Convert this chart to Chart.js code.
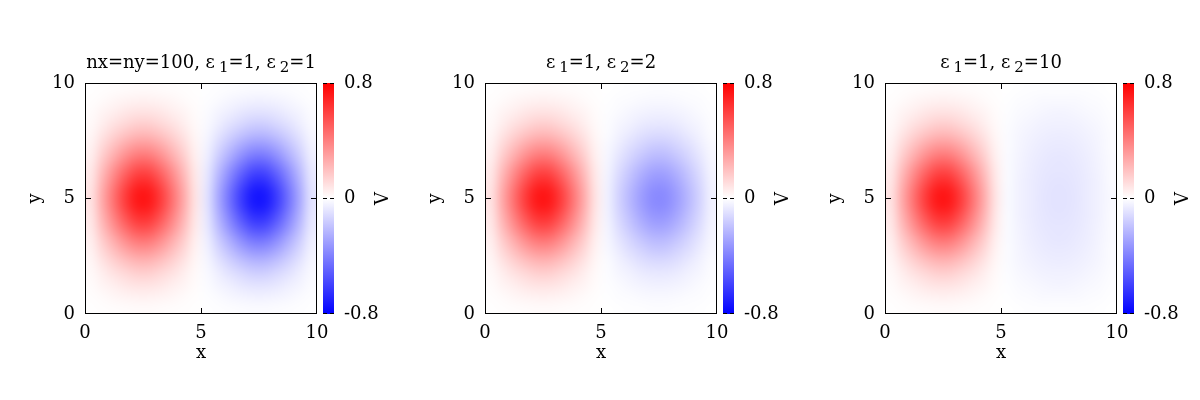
<!DOCTYPE html>
<html><head><meta charset="utf-8">
<script src="https://cdn.jsdelivr.net/npm/chart.js@4/dist/chart.umd.min.js"></script>
<style>
html,body{margin:0;padding:0;background:#fff;}
#wrap{display:flex;width:1200px;height:400px;}
.panel{width:400px;height:400px;}
canvas{display:block;}
</style></head><body>
<div id="wrap">
<div class="panel"><canvas id="c0" width="400" height="400"></canvas></div>
<div class="panel"><canvas id="c1" width="400" height="400"></canvas></div>
<div class="panel"><canvas id="c2" width="400" height="400"></canvas></div>
</div>
<script>
// ---- data ----
const xCenters = [0.25,0.75,1.25,1.75,2.25,2.75,3.25,3.75,4.25,4.75,5.25,5.75,6.25,6.75,7.25,7.75,8.25,8.75,9.25,9.75];
const yCenters = [0.25,0.75,1.25,1.75,2.25,2.75,3.25,3.75,4.25,4.75,5.25,5.75,6.25,6.75,7.25,7.75,8.25,8.75,9.25,9.75];
const xTicks = [0,5,10];
const yTicks = [0,5,10];
const cbTicks = [-0.8,0,0.8];
const cbTickLabels = ['-0.8','0','0.8'];
const xLabel = 'x', yLabel = 'y', cbLabel = 'V';
const title1 = [['nx=ny=100, ε',0],['1',1],['=1, ε',0],['2',1],['=1',0]];
const title2 = [['ε',0],['1',1],['=1, ε',0],['2',1],['=2',0]];
const title3 = [['ε',0],['1',1],['=1, ε',0],['2',1],['=10',0]];

// V grid, rows from y=0.25 (bottom) to y=9.75 (top), columns x=0.25..9.75
const v1 = [
[0.002,0.005,0.009,0.012,0.015,0.015,0.012,0.009,0.005,0.002,-0.002,-0.005,-0.009,-0.012,-0.015,-0.015,-0.012,-0.009,-0.005,-0.002],
[0.005,0.016,0.027,0.037,0.044,0.044,0.037,0.027,0.016,0.005,-0.005,-0.016,-0.027,-0.037,-0.044,-0.044,-0.037,-0.027,-0.016,-0.005],
[0.011,0.033,0.054,0.074,0.088,0.088,0.074,0.054,0.033,0.011,-0.011,-0.033,-0.054,-0.074,-0.088,-0.088,-0.074,-0.054,-0.033,-0.011],
[0.018,0.054,0.090,0.123,0.146,0.146,0.123,0.090,0.054,0.018,-0.018,-0.054,-0.090,-0.123,-0.146,-0.146,-0.123,-0.090,-0.054,-0.018],
[0.028,0.084,0.140,0.191,0.226,0.226,0.191,0.140,0.084,0.028,-0.028,-0.084,-0.140,-0.191,-0.226,-0.226,-0.191,-0.140,-0.084,-0.028],
[0.041,0.122,0.203,0.278,0.329,0.329,0.278,0.203,0.122,0.041,-0.041,-0.122,-0.203,-0.278,-0.329,-0.329,-0.278,-0.203,-0.122,-0.041],
[0.054,0.163,0.271,0.370,0.438,0.438,0.370,0.271,0.163,0.054,-0.054,-0.163,-0.271,-0.370,-0.438,-0.438,-0.370,-0.271,-0.163,-0.054],
[0.068,0.206,0.344,0.469,0.555,0.555,0.469,0.344,0.206,0.068,-0.068,-0.206,-0.344,-0.469,-0.555,-0.555,-0.469,-0.344,-0.206,-0.068],
[0.080,0.241,0.402,0.549,0.650,0.650,0.549,0.402,0.241,0.080,-0.080,-0.241,-0.402,-0.549,-0.650,-0.650,-0.549,-0.402,-0.241,-0.080],
[0.089,0.267,0.445,0.608,0.719,0.719,0.608,0.445,0.267,0.089,-0.089,-0.267,-0.445,-0.608,-0.719,-0.719,-0.608,-0.445,-0.267,-0.089],
[0.089,0.267,0.445,0.608,0.719,0.719,0.608,0.445,0.267,0.089,-0.089,-0.267,-0.445,-0.608,-0.719,-0.719,-0.608,-0.445,-0.267,-0.089],
[0.080,0.241,0.402,0.549,0.650,0.650,0.549,0.402,0.241,0.080,-0.080,-0.241,-0.402,-0.549,-0.650,-0.650,-0.549,-0.402,-0.241,-0.080],
[0.068,0.206,0.344,0.469,0.555,0.555,0.469,0.344,0.206,0.068,-0.068,-0.206,-0.344,-0.469,-0.555,-0.555,-0.469,-0.344,-0.206,-0.068],
[0.054,0.163,0.271,0.370,0.438,0.438,0.370,0.271,0.163,0.054,-0.054,-0.163,-0.271,-0.370,-0.438,-0.438,-0.370,-0.271,-0.163,-0.054],
[0.041,0.122,0.203,0.278,0.329,0.329,0.278,0.203,0.122,0.041,-0.041,-0.122,-0.203,-0.278,-0.329,-0.329,-0.278,-0.203,-0.122,-0.041],
[0.028,0.084,0.140,0.191,0.226,0.226,0.191,0.140,0.084,0.028,-0.028,-0.084,-0.140,-0.191,-0.226,-0.226,-0.191,-0.140,-0.084,-0.028],
[0.018,0.054,0.090,0.123,0.146,0.146,0.123,0.090,0.054,0.018,-0.018,-0.054,-0.090,-0.123,-0.146,-0.146,-0.123,-0.090,-0.054,-0.018],
[0.011,0.033,0.054,0.074,0.088,0.088,0.074,0.054,0.033,0.011,-0.011,-0.033,-0.054,-0.074,-0.088,-0.088,-0.074,-0.054,-0.033,-0.011],
[0.005,0.016,0.027,0.037,0.044,0.044,0.037,0.027,0.016,0.005,-0.005,-0.016,-0.027,-0.037,-0.044,-0.044,-0.037,-0.027,-0.016,-0.005],
[0.002,0.005,0.009,0.012,0.015,0.015,0.012,0.009,0.005,0.002,-0.002,-0.005,-0.009,-0.012,-0.015,-0.015,-0.012,-0.009,-0.005,-0.002]
];
const v2 = [
[0.002,0.005,0.009,0.012,0.015,0.015,0.012,0.009,0.005,0.002,-0.001,-0.003,-0.005,-0.006,-0.008,-0.008,-0.006,-0.005,-0.003,-0.001],
[0.005,0.016,0.027,0.037,0.044,0.044,0.037,0.027,0.016,0.005,-0.003,-0.008,-0.014,-0.019,-0.022,-0.022,-0.019,-0.014,-0.008,-0.003],
[0.011,0.033,0.054,0.074,0.088,0.088,0.074,0.054,0.033,0.011,-0.006,-0.017,-0.027,-0.037,-0.044,-0.044,-0.037,-0.027,-0.017,-0.006],
[0.018,0.054,0.090,0.123,0.146,0.146,0.123,0.090,0.054,0.018,-0.009,-0.027,-0.045,-0.062,-0.073,-0.073,-0.062,-0.045,-0.027,-0.009],
[0.028,0.084,0.140,0.191,0.226,0.226,0.191,0.140,0.084,0.028,-0.014,-0.042,-0.070,-0.096,-0.113,-0.113,-0.096,-0.070,-0.042,-0.014],
[0.041,0.122,0.203,0.278,0.329,0.329,0.278,0.203,0.122,0.041,-0.021,-0.061,-0.102,-0.139,-0.165,-0.165,-0.139,-0.102,-0.061,-0.021],
[0.054,0.163,0.271,0.370,0.438,0.438,0.370,0.271,0.163,0.054,-0.027,-0.082,-0.136,-0.185,-0.219,-0.219,-0.185,-0.136,-0.082,-0.027],
[0.068,0.206,0.344,0.469,0.555,0.555,0.469,0.344,0.206,0.068,-0.034,-0.103,-0.172,-0.235,-0.278,-0.278,-0.235,-0.172,-0.103,-0.034],
[0.080,0.241,0.402,0.549,0.650,0.650,0.549,0.402,0.241,0.080,-0.040,-0.121,-0.201,-0.275,-0.325,-0.325,-0.275,-0.201,-0.121,-0.040],
[0.089,0.267,0.445,0.608,0.719,0.719,0.608,0.445,0.267,0.089,-0.045,-0.134,-0.223,-0.304,-0.360,-0.360,-0.304,-0.223,-0.134,-0.045],
[0.089,0.267,0.445,0.608,0.719,0.719,0.608,0.445,0.267,0.089,-0.045,-0.134,-0.223,-0.304,-0.360,-0.360,-0.304,-0.223,-0.134,-0.045],
[0.080,0.241,0.402,0.549,0.650,0.650,0.549,0.402,0.241,0.080,-0.040,-0.121,-0.201,-0.275,-0.325,-0.325,-0.275,-0.201,-0.121,-0.040],
[0.068,0.206,0.344,0.469,0.555,0.555,0.469,0.344,0.206,0.068,-0.034,-0.103,-0.172,-0.235,-0.278,-0.278,-0.235,-0.172,-0.103,-0.034],
[0.054,0.163,0.271,0.370,0.438,0.438,0.370,0.271,0.163,0.054,-0.027,-0.082,-0.136,-0.185,-0.219,-0.219,-0.185,-0.136,-0.082,-0.027],
[0.041,0.122,0.203,0.278,0.329,0.329,0.278,0.203,0.122,0.041,-0.021,-0.061,-0.102,-0.139,-0.165,-0.165,-0.139,-0.102,-0.061,-0.021],
[0.028,0.084,0.140,0.191,0.226,0.226,0.191,0.140,0.084,0.028,-0.014,-0.042,-0.070,-0.096,-0.113,-0.113,-0.096,-0.070,-0.042,-0.014],
[0.018,0.054,0.090,0.123,0.146,0.146,0.123,0.090,0.054,0.018,-0.009,-0.027,-0.045,-0.062,-0.073,-0.073,-0.062,-0.045,-0.027,-0.009],
[0.011,0.033,0.054,0.074,0.088,0.088,0.074,0.054,0.033,0.011,-0.006,-0.017,-0.027,-0.037,-0.044,-0.044,-0.037,-0.027,-0.017,-0.006],
[0.005,0.016,0.027,0.037,0.044,0.044,0.037,0.027,0.016,0.005,-0.003,-0.008,-0.014,-0.019,-0.022,-0.022,-0.019,-0.014,-0.008,-0.003],
[0.002,0.005,0.009,0.012,0.015,0.015,0.012,0.009,0.005,0.002,-0.001,-0.003,-0.005,-0.006,-0.008,-0.008,-0.006,-0.005,-0.003,-0.001]
];
const v3 = [
[0.002,0.005,0.009,0.012,0.015,0.015,0.012,0.009,0.005,0.002,-0.001,-0.003,-0.005,-0.006,-0.007,-0.007,-0.006,-0.005,-0.003,-0.001],
[0.005,0.016,0.027,0.037,0.044,0.044,0.037,0.027,0.016,0.005,-0.004,-0.009,-0.014,-0.018,-0.020,-0.020,-0.018,-0.014,-0.009,-0.004],
[0.011,0.033,0.054,0.074,0.088,0.088,0.074,0.054,0.033,0.011,-0.007,-0.016,-0.023,-0.029,-0.033,-0.033,-0.029,-0.023,-0.016,-0.007],
[0.018,0.054,0.090,0.123,0.146,0.146,0.123,0.090,0.054,0.018,-0.009,-0.021,-0.032,-0.040,-0.045,-0.045,-0.040,-0.032,-0.021,-0.009],
[0.028,0.084,0.140,0.191,0.226,0.226,0.191,0.140,0.084,0.028,-0.012,-0.027,-0.040,-0.050,-0.057,-0.057,-0.050,-0.040,-0.027,-0.012],
[0.041,0.122,0.203,0.278,0.329,0.329,0.278,0.203,0.122,0.041,-0.014,-0.031,-0.046,-0.059,-0.066,-0.066,-0.059,-0.046,-0.031,-0.014],
[0.054,0.163,0.271,0.370,0.438,0.438,0.370,0.271,0.163,0.054,-0.015,-0.035,-0.052,-0.065,-0.074,-0.074,-0.065,-0.052,-0.035,-0.015],
[0.068,0.206,0.344,0.469,0.555,0.555,0.469,0.344,0.206,0.068,-0.017,-0.038,-0.056,-0.071,-0.080,-0.080,-0.071,-0.056,-0.038,-0.017],
[0.080,0.241,0.402,0.549,0.650,0.650,0.549,0.402,0.241,0.080,-0.017,-0.040,-0.059,-0.075,-0.084,-0.084,-0.075,-0.059,-0.040,-0.017],
[0.089,0.267,0.445,0.608,0.719,0.719,0.608,0.445,0.267,0.089,-0.018,-0.041,-0.061,-0.077,-0.087,-0.087,-0.077,-0.061,-0.041,-0.018],
[0.089,0.267,0.445,0.608,0.719,0.719,0.608,0.445,0.267,0.089,-0.018,-0.041,-0.061,-0.077,-0.087,-0.087,-0.077,-0.061,-0.041,-0.018],
[0.080,0.241,0.402,0.549,0.650,0.650,0.549,0.402,0.241,0.080,-0.017,-0.040,-0.059,-0.075,-0.084,-0.084,-0.075,-0.059,-0.040,-0.017],
[0.068,0.206,0.344,0.469,0.555,0.555,0.469,0.344,0.206,0.068,-0.017,-0.038,-0.056,-0.071,-0.080,-0.080,-0.071,-0.056,-0.038,-0.017],
[0.054,0.163,0.271,0.370,0.438,0.438,0.370,0.271,0.163,0.054,-0.015,-0.035,-0.052,-0.065,-0.074,-0.074,-0.065,-0.052,-0.035,-0.015],
[0.041,0.122,0.203,0.278,0.329,0.329,0.278,0.203,0.122,0.041,-0.014,-0.031,-0.046,-0.059,-0.066,-0.066,-0.059,-0.046,-0.031,-0.014],
[0.028,0.084,0.140,0.191,0.226,0.226,0.191,0.140,0.084,0.028,-0.012,-0.027,-0.040,-0.050,-0.057,-0.057,-0.050,-0.040,-0.027,-0.012],
[0.018,0.054,0.090,0.123,0.146,0.146,0.123,0.090,0.054,0.018,-0.009,-0.021,-0.032,-0.040,-0.045,-0.045,-0.040,-0.032,-0.021,-0.009],
[0.011,0.033,0.054,0.074,0.088,0.088,0.074,0.054,0.033,0.011,-0.007,-0.016,-0.023,-0.029,-0.033,-0.033,-0.029,-0.023,-0.016,-0.007],
[0.005,0.016,0.027,0.037,0.044,0.044,0.037,0.027,0.016,0.005,-0.004,-0.009,-0.014,-0.018,-0.020,-0.020,-0.018,-0.014,-0.009,-0.004],
[0.002,0.005,0.009,0.012,0.015,0.015,0.012,0.009,0.005,0.002,-0.001,-0.003,-0.005,-0.006,-0.007,-0.007,-0.006,-0.005,-0.003,-0.001]
];
const cbMin = -0.8, cbMax = 0.8;

// ---- rendering ----
const FONT = 'DejaVu Serif';
const FS = 18;

function vRGB(v){
  let t = v >= 0 ? v / cbMax : -v / cbMin;
  t = Math.max(-1, Math.min(1, t));
  if (t >= 0){ const g = Math.round(255*(1-t)); return [255,g,g]; }
  const g = Math.round(255*(1+t)); return [g,g,255];
}
function vColor(v){ const c = vRGB(v); return `rgb(${c[0]},${c[1]},${c[2]})`; }

const heatPlugin = {
  id: 'heat',
  beforeDatasetsDraw(chart){
    const ctx = chart.ctx, xs = chart.scales.x, ys = chart.scales.y, a = chart.chartArea;
    const hw = (xCenters[1]-xCenters[0])/2, hh = (yCenters[1]-yCenters[0])/2;
    const nx = xCenters.length, ny = yCenters.length;
    // each cell becomes one texel; the texture is stretched over the cells' extent on the scales
    const off = document.createElement('canvas'); off.width = nx; off.height = ny;
    const octx = off.getContext('2d');
    const img = octx.createImageData(nx, ny);
    chart.data.datasets[0].data.forEach(p => {
      const i = xCenters.indexOf(p.x), j = ny - 1 - yCenters.indexOf(p.y);
      const c = vRGB(p.v), k = (j*nx + i)*4;
      img.data[k] = c[0]; img.data[k+1] = c[1]; img.data[k+2] = c[2]; img.data[k+3] = 255;
    });
    octx.putImageData(img, 0, 0);
    const x0 = xs.getPixelForValue(xCenters[0]-hw), x1 = xs.getPixelForValue(xCenters[nx-1]+hw);
    const y0 = ys.getPixelForValue(yCenters[0]-hh), y1 = ys.getPixelForValue(yCenters[ny-1]+hh);
    ctx.save();
    ctx.beginPath(); ctx.rect(a.left, a.top, a.right-a.left, a.bottom-a.top); ctx.clip();
    ctx.imageSmoothingEnabled = true; ctx.imageSmoothingQuality = 'high';
    ctx.drawImage(off, 0, 0, nx, ny, x0, y1, x1-x0, y0-y1);
    ctx.restore();
  },
  afterDraw(chart){
    const ctx = chart.ctx, xs = chart.scales.x, ys = chart.scales.y, cs = chart.scales.cb, a = chart.chartArea;
    const opts = chart.options.plugins.heat;
    ctx.save();
    ctx.strokeStyle = '#000'; ctx.lineWidth = 1;
    ctx.strokeRect(a.left+0.5, a.top+0.5, a.right-a.left-1, a.bottom-a.top-1);
    const colX = p => Math.min(Math.floor(p), Math.round(a.right)-1) + 0.5;
    const rowY = p => Math.min(Math.floor(p), Math.round(a.bottom)-1) + 0.5;
    ctx.beginPath();
    xTicks.forEach(v => { const px = colX(xs.getPixelForValue(v));
      ctx.moveTo(px, a.bottom); ctx.lineTo(px, a.bottom-6);
      ctx.moveTo(px, a.top); ctx.lineTo(px, a.top+6); });
    yTicks.forEach(v => { const py = rowY(ys.getPixelForValue(v));
      ctx.moveTo(a.left, py); ctx.lineTo(a.left+6, py);
      ctx.moveTo(a.right, py); ctx.lineTo(a.right-6, py); });
    ctx.stroke();
    // colorbar
    const cx0 = a.right + 6, cx1 = a.right + 17;
    const ct = cs.getPixelForValue(cbMax), cbt = cs.getPixelForValue(cbMin);
    const g = ctx.createLinearGradient(0, ct, 0, cbt);
    g.addColorStop(0, vColor(cbMax)); g.addColorStop(0.5, vColor(0)); g.addColorStop(1, vColor(cbMin));
    ctx.fillStyle = g; ctx.fillRect(cx0, ct, cx1-cx0, cbt-ct);
    ctx.beginPath();
    cbTicks.forEach(v => { const py = rowY(cs.getPixelForValue(v));
      ctx.moveTo(cx0, py); ctx.lineTo(cx0+4, py);
      ctx.moveTo(cx1, py); ctx.lineTo(cx1-4, py); });
    ctx.stroke();
    // axis labels
    ctx.fillStyle = '#000';
    ctx.font = `${FS}px "${FONT}"`;
    ctx.textAlign = 'center'; ctx.textBaseline = 'middle';
    ctx.fillText(xLabel, (a.left+a.right)/2, 353);
    ctx.save(); ctx.translate(35, (a.top+a.bottom)/2); ctx.rotate(-Math.PI/2); ctx.fillText(yLabel, 0, 0); ctx.restore();
    ctx.save(); ctx.translate(383, (a.top+a.bottom)/2); ctx.rotate(-Math.PI/2); ctx.fillText(cbLabel, 0, 0); ctx.restore();
    // title with subscripts
    const segs = opts.title;
    const SUB = 15, GAP = 4, base = 68;
    let w = 0;
    segs.forEach(s => { ctx.font = `${s[1]?SUB:FS}px "${FONT}"`; w += ctx.measureText(s[0]).width + (s[1]?GAP:0); });
    let x = (a.left+a.right)/2 - w/2;
    ctx.textAlign = 'left'; ctx.textBaseline = 'alphabetic';
    segs.forEach(s => {
      ctx.font = `${s[1]?SUB:FS}px "${FONT}"`;
      if (s[1]) x += GAP;
      ctx.fillText(s[0], x, base + (s[1]?4:0));
      x += ctx.measureText(s[0]).width;
    });
    ctx.restore();
  }
};

function makeCells(grid){
  const out = [];
  grid.forEach((row, j) => row.forEach((v, i) => out.push({x: xCenters[i], y: yCenters[j], v: v})));
  return out;
}

function makeChart(id, grid, title){
  const tickFont = {family: FONT, size: FS};
  return new Chart(document.getElementById(id), {
    type: 'scatter',
    data: {datasets: [{data: makeCells(grid), pointRadius: 0, pointHoverRadius: 0}]},
    options: {
      responsive: false, animation: false, events: [],
      layout: {padding: {top: 83, left: 0, right: 0, bottom: 0}},
      plugins: {legend: {display: false}, tooltip: {enabled: false}, heat: {title: title}},
      scales: {
        x: {type: 'linear', position: 'bottom', min: 0, max: 10,
            afterBuildTicks: s => { s.ticks = xTicks.map(v => ({value: v})); },
            afterFit: s => { s.height = 86; },
            grid: {display: false, drawTicks: false}, border: {display: false},
            ticks: {color: '#000', font: tickFont, padding: 9, maxRotation: 0, autoSkip: false}},
        y: {type: 'linear', position: 'left', min: 0, max: 10,
            afterBuildTicks: s => { s.ticks = yTicks.map(v => ({value: v})); },
            afterFit: s => { s.width = 85; },
            grid: {display: false, drawTicks: false}, border: {display: false},
            ticks: {color: '#000', font: tickFont, padding: 10, autoSkip: false}},
        cb: {type: 'linear', position: 'right', min: cbMin, max: cbMax,
            afterBuildTicks: s => { s.ticks = cbTicks.map(v => ({value: v})); },
            afterFit: s => { s.width = 83; },
            grid: {display: false, drawTicks: false}, border: {display: false},
            ticks: {color: '#000', font: tickFont, padding: 27, autoSkip: false,
                    callback: (v) => cbTickLabels[cbTicks.indexOf(v)]}}
      }
    },
    plugins: [heatPlugin]
  });
}

makeChart('c0', v1, title1);
makeChart('c1', v2, title2);
makeChart('c2', v3, title3);
</script>
</body></html>
